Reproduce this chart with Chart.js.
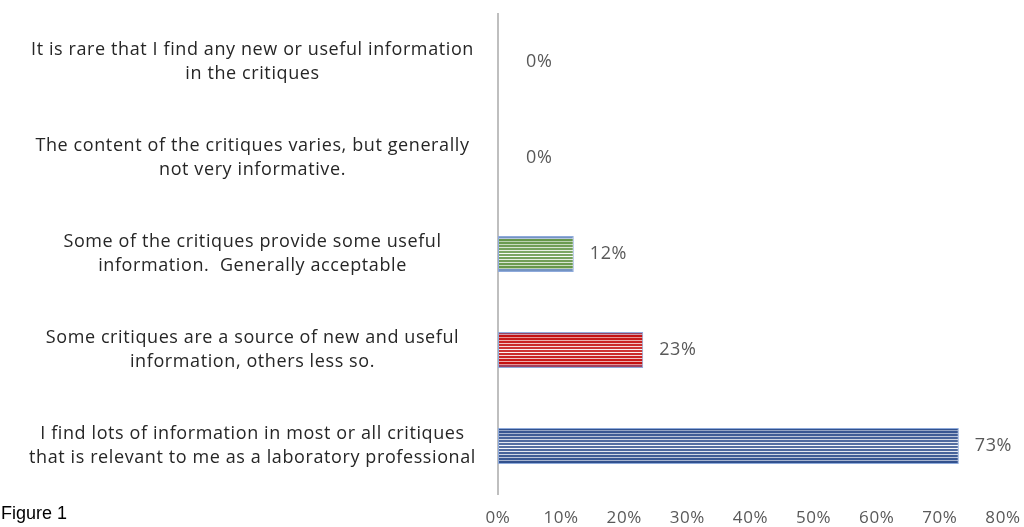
<!DOCTYPE html>
<html>
<head>
<meta charset="utf-8">
<script src="https://cdn.jsdelivr.net/npm/chart.js@4"></script>
<style>
  html, body { margin: 0; padding: 0; background: #fff; }
  #wrap { position: relative; width: 1024px; height: 527px; }
  #fig { position: absolute; left: 1px; top: 503px; font-family: "Liberation Sans", Arial, sans-serif; font-size: 18px; color: #000; }
</style>
</head>
<body>
<div id="wrap">
  <canvas id="c" width="1024" height="527"></canvas>
  <div id="fig">Figure 1</div>
</div>
<script>
const categories = [
  ["It is rare that I find any new or useful information", "in the critiques"],
  ["The content of the critiques varies, but generally", "not very informative."],
  ["Some of the critiques provide some useful", "information.  Generally acceptable"],
  ["Some critiques are a source of new and useful", "information, others less so."],
  ["I find lots of information in most or all critiques", "that is relevant to me as a laboratory professional"]
];
const values = [0, 0, 12, 23, 73];
const valueLabels = ["0%", "0%", "12%", "23%", "73%"];
const xTicks = [0, 10, 20, 30, 40, 50, 60, 70, 80];

const stripeColors = [
  { dark: "#2f4f8f", light: "#ffffff" },
  { dark: "#2f4f8f", light: "#ffffff" },
  { dark: "#5a8f3c", light: "#ffffff", edge: "#6f8fc0" },
  { dark: "#c00000", light: "#ffffff", edge: "#9a3a5a" },
  { dark: "#2a4a8a", light: "#ffffff" }
];

function mix(a, b, t) {
  const pa = [1,3,5].map(i => parseInt(a.substr(i,2),16));
  const pb = [1,3,5].map(i => parseInt(b.substr(i,2),16));
  return "rgb(" + pa.map((v,k) => Math.round(v + (pb[k]-v)*t)).join(",") + ")";
}

function stripeFill(ctx) {
  const chart = ctx.chart;
  const y = chart.scales && chart.scales.y;
  const idx = ctx.dataIndex;
  const c = stripeColors[idx] || stripeColors[0];
  if (!chart.chartArea || !y || idx === undefined) return c.dark;
  const cy = y.getPixelForValue(idx);
  const step = Math.abs(y.getPixelForValue(1) - y.getPixelForValue(0));
  const h = step * 0.375;
  const top = cy - h / 2, bot = cy + h / 2;
  const g = chart.ctx.createLinearGradient(0, top, 0, bot);
  const period = 3;
  const n = Math.floor(h / period);
  for (let i = 0; i < n; i++) {
    const s0 = i / n, s1 = (i + 0.6) / n, s2 = (i + 1) / n;
    const centerDist = Math.abs((i + 0.5) / n - 0.5) * 2;
    let dark = c.dark;
    if (c.edge && centerDist > 0.75) dark = c.edge;
    const darkCol = mix(dark, "#ffffff", 0.02 + (1 - centerDist) * 0.2);
    const lightCol = mix(dark, c.light, 0.45 + (1 - centerDist) * 0.55);
    g.addColorStop(s0, darkCol);
    g.addColorStop(s1, darkCol);
    g.addColorStop(Math.min(s1 + 0.0001, 1), lightCol);
    g.addColorStop(Math.min(s2 - 0.0001, 1), lightCol);
  }
  return g;
}

const spacingPlugin = {
  id: "spacing",
  beforeLayout(chart) { chart.ctx.letterSpacing = "0.6px"; },
  beforeDraw(chart) { chart.ctx.letterSpacing = "0.6px"; }
};

const valueLabelPlugin = {
  id: "valueLabels",
  afterDatasetsDraw(chart) {
    const ctx = chart.ctx;
    const meta = chart.getDatasetMeta(0);
    ctx.save();
    ctx.font = "18px 'Open Sans', sans-serif";
    ctx.fillStyle = "#595959";
    ctx.textAlign = "left";
    ctx.textBaseline = "middle";
    meta.data.forEach((el, i) => {
      const extra = values[i] === 0 ? 12 : 0;
      ctx.fillText(valueLabels[i], el.x + 16 + extra, el.y);
    });
    ctx.restore();
  }
};

new Chart(document.getElementById("c"), {
  type: "bar",
  data: {
    labels: categories,
    datasets: [{
      data: values,
      backgroundColor: stripeFill,
      borderColor: "#8eaadb",
      borderWidth: 1,
      borderSkipped: false,
      barPercentage: 0.375,
      categoryPercentage: 1.0
    }]
  },
  options: {
    indexAxis: "y",
    responsive: false,
    animation: false,
    layout: { padding: { top: 14, left: 0, right: 21, bottom: 0 } },
    plugins: { legend: { display: false }, tooltip: { enabled: false } },
    scales: {
      x: {
        min: 0, max: 80,
        afterBuildTicks(scale) { scale.ticks = xTicks.map(v => ({ value: v })); },
        afterFit(scale) { scale.paddingLeft = 0; scale.paddingRight = 0; scale.height = 33; },
        grid: { display: false, drawTicks: false },
        border: { display: false },
        ticks: {
          padding: 14,
          maxRotation: 0,
          color: "#595959",
          font: { family: "'Open Sans', sans-serif", size: 17 },
          callback: v => v + "%"
        }
      },
      y: {
        grid: { display: false, drawTicks: false },
        border: { display: true, color: "#bfbfbf", width: 2 },
        afterFit(scale) { scale.width = 498; scale.paddingTop = 0; scale.paddingBottom = 0; },
        ticks: {
          crossAlign: "center",
          padding: 22,
          color: "#262626",
          font: { family: "'Open Sans', sans-serif", size: 18, lineHeight: 1.33 }
        }
      }
    }
  },
  plugins: [spacingPlugin, valueLabelPlugin]
});
</script>
</body>
</html>
